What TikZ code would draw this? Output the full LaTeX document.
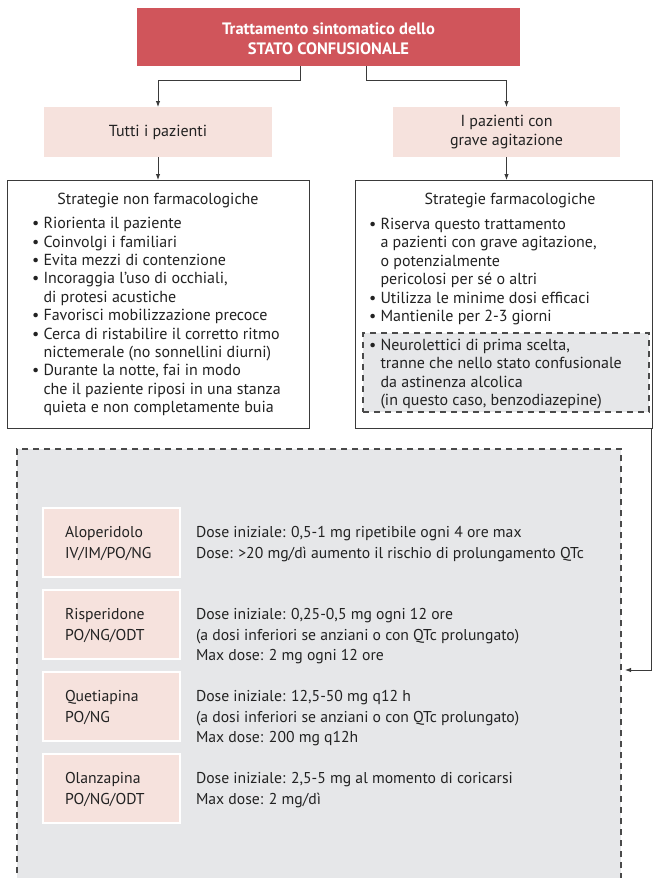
\documentclass[tikz,border=0pt]{standalone}
\usepackage{fontspec}
\setmainfont{PT Sans}
\usetikzlibrary{arrows.meta}

\definecolor{titlered}{HTML}{D0555B}
\definecolor{pinkbg}{HTML}{F6E2DD}
\definecolor{graybg}{HTML}{E6E7E9}
\definecolor{linegray}{HTML}{3A3A3A}
\definecolor{dashgray}{HTML}{4A4A4A}
\definecolor{textgray}{HTML}{222222}

\newcommand{\bul}{\textbullet\ }
\newcommand{\ind}{\hphantom{\textbullet\ }}

\begin{document}
\begin{tikzpicture}[x=1pt,y=-1pt,
  every node/.style={inner sep=0pt, outer sep=0pt, text=textgray},
  body/.style={font=\fontsize{16}{18.4}\selectfont, align=left, anchor=north west},
  drugtxt/.style={font=\fontsize{15.7}{20.5}\selectfont, align=left, anchor=north west},
  headtxt/.style={font=\fontsize{16}{18}\selectfont, anchor=base},
  titlebox/.style={fill=titlered, anchor=north west, align=center,
    text=white, font=\fontsize{16.5}{20}\selectfont\bfseries},
  groupbox/.style={fill=pinkbg, anchor=north west, align=center,
    font=\fontsize{16}{19.5}\selectfont},
  panel/.style={draw=linegray, line width=0.9pt, fill=white, anchor=north west},
  dashbox/.style={draw=dashgray, fill=graybg, line width=1.3pt,
    dash pattern=on 6pt off 5pt, anchor=north west},
  drugbox/.style={fill=pinkbg, draw=white, line width=1.5pt, anchor=north west,
    minimum width=137pt, minimum height=69pt},
  conn/.style={draw=linegray, line width=0.9pt,
    -{Latex[length=6pt,width=4.5pt]}},
]
\useasboundingbox (0,0) rectangle (654,878);
\clip (0,0) rectangle (654,878);

% heading
\node[titlebox, minimum width=383pt, minimum height=58pt] (title) at (137,8) {};
\node[titlebox, fill=none, anchor=center] (titletext) at ([yshift=-2pt]title.center)
  {Trattamento sintomatico dello\\STATO CONFUSIONALE};

% patient groups
\node[groupbox, minimum width=228pt, minimum height=50pt] (tutti) at (44,107)
  {Tutti i pazienti};
\node[groupbox, minimum width=227pt, minimum height=50pt] (grave) at (393,107)
  {I pazienti con\\grave agitazione};

% strategy panels
\node[panel, minimum width=302pt, minimum height=248pt] (nonfarm) at (7,180) {};
\node[panel, minimum width=297pt, minimum height=248pt] (farm) at (355,180) {};

% first-choice neuroleptics, dashed
\node[dashbox, minimum width=286pt, minimum height=79pt] (neuro) at (363,333) {};

% drug table, dashed
\node[dashbox, minimum width=604pt, minimum height=442pt] (drugs) at (17,449) {};

% connectors
\draw[conn] ([xshift=-28pt]title.south) -- ++(0,14) -| (tutti.north);
\draw[conn] ([xshift=38pt]title.south) -- ++(0,14) -| (grave.north);
\draw[conn] (tutti.south) -- (tutti.south |- nonfarm.north);
\draw[conn] (grave.south) -- (grave.south |- farm.north);
\draw[conn] ([xshift=-0.5pt]farm.south east) |- ([xshift=4pt]drugs.east);

% panel contents
\node[headtxt] (nonfarmhead) at (158,204) {Strategie non farmacologiche};
\node[body] (nonfarmlist) at (32,215.8) {\strut\bul Riorienta il paziente\\
  \bul Coinvolgi i familiari\\
  \bul Evita mezzi di contenzione\\
  \bul Incoraggia l’uso di occhiali,\\
  \ind di protesi acustiche\\
  \bul Favorisci mobilizzazione precoce\\
  \bul Cerca di ristabilire il corretto ritmo\\
  \ind nictemerale (no sonnellini diurni)\\
  \bul Durante la notte, fai in modo\\
  \ind che il paziente riposi in una stanza\\
  \ind quieta e non completamente buia};

\node[headtxt] (farmhead) at (510,204) {Strategie farmacologiche};
\node[body] (farmlist) at (369,216.6) {\strut\bul Riserva questo trattamento\\
  \ind a pazienti con grave agitazione,\\
  \ind o potenzialmente\\
  \ind pericolosi per sé o altri\\
  \bul Utilizza le minime dosi efficaci\\
  \bul Mantienile per 2-3 giorni};

\node[body] (neurotext) at (369,337.6) {\strut\bul Neurolettici di prima scelta,\\
  \ind tranne che nello stato confusionale\\
  \ind da astinenza alcolica\\
  \ind (in questo caso, benzodiazepine)};

% drug rows
\node[drugbox] (alop) at (43,508) {};
\node[drugbox] (risp) at (43,590) {};
\node[drugbox] (quet) at (43,672) {};
\node[drugbox] (olan) at (43,754) {};

\node[drugtxt] (alopname) at ([shift={(22,15.6)}]alop.north west)
  {\strut Aloperidolo\\IV/IM/PO/NG};
\node[drugtxt] (aloptxt) at ([shift={(153,15.6)}]alop.north west)
  {\strut Dose iniziale: 0,5-1 mg ripetibile ogni 4 ore max\\
   Dose: >20 mg/dì aumento il rischio di prolungamento QTc};

\node[drugtxt] (rispname) at ([shift={(22,15.6)}]risp.north west)
  {\strut Risperidone\\PO/NG/ODT};
\node[drugtxt] (risptxt) at ([shift={(153,15.6)}]risp.north west)
  {\strut Dose iniziale: 0,25-0,5 mg ogni 12 ore\\
   (a dosi inferiori se anziani o con QTc prolungato)\\
   Max dose: 2 mg ogni 12 ore};

\node[drugtxt] (quetname) at ([shift={(22,15.6)}]quet.north west)
  {\strut Quetiapina\\PO/NG};
\node[drugtxt] (quettxt) at ([shift={(153,15.6)}]quet.north west)
  {\strut Dose iniziale: 12,5-50 mg q12 h\\
   (a dosi inferiori se anziani o con QTc prolungato)\\
   Max dose: 200 mg q12h};

\node[drugtxt] (olanname) at ([shift={(22,15.6)}]olan.north west)
  {\strut Olanzapina\\PO/NG/ODT};
\node[drugtxt] (olantxt) at ([shift={(153,15.6)}]olan.north west)
  {\strut Dose iniziale: 2,5-5 mg al momento di coricarsi\\
   Max dose: 2 mg/dì};
\end{tikzpicture}
\end{document}
